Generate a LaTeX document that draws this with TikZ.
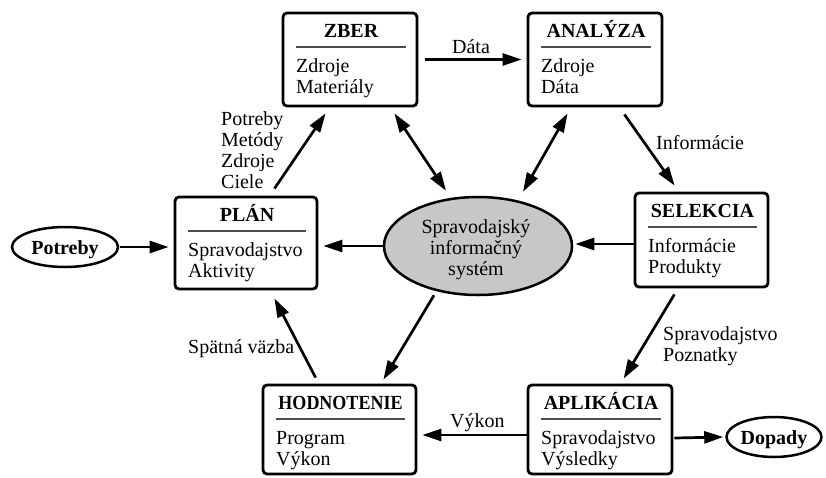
\documentclass[tikz,border=0pt]{standalone}
\usepackage{fontspec}
\usepackage{graphicx}
\setmainfont{Liberation Serif}
\usetikzlibrary{arrows.meta,calc,shapes.geometric}

% stage box: name, left x, top y, width, height, title, first line, second line
\newcommand{\stagebox}[8]{%
  \node[stage, minimum width=#4pt, minimum height=#5pt] (#1) at ({#2+#4/2},{#3+#5/2}) {};
  \draw[sep] ({#2+13},{#3+34}) -- ({#2+#4-11},{#3+34});
  \node[ttl] (#1-t) at ({#2+1+#4/2},{#3+24}) {#6};
  \node[txt] (#1-a) at ({#2+13},{#3+59}) {#7};
  \node[txt] (#1-b) at ({#2+13},{#3+80}) {#8};
}

\begin{document}
\begin{tikzpicture}[x=1pt,y=-1pt,
  stage/.style={draw, line width=2.8pt, rounded corners=4pt, inner sep=0pt},
  ttl/.style={font=\fontsize{20}{24}\selectfont\bfseries, anchor=base, inner sep=0pt},
  txt/.style={font=\fontsize{20}{24}\selectfont, anchor=base west, inner sep=0pt},
  ctr/.style={font=\fontsize{20}{24}\selectfont, anchor=base, inner sep=0pt},
  sep/.style={line width=2pt, black!70},
  oval/.style={ellipse, draw, line width=2.5pt, inner sep=0pt},
  arr/.style={line width=2.7pt, -{Triangle[length=19pt,width=12pt]}},
  darr/.style={line width=2.7pt, {Triangle[length=19pt,width=12pt]}-{Triangle[length=19pt,width=12pt]}},
  ]
\useasboundingbox (0,0) rectangle (826,477);

% the six stages of the cycle
\stagebox{zber}{283}{13}{134}{93}{ZBER}{Zdroje}{Materiály}
\stagebox{anal}{528}{13}{134}{93}{ANALÝZA}{Zdroje}{Dáta}
\stagebox{sel}{635}{193}{133}{94}{SELEKCIA}{Informácie}{Produkty}
\stagebox{plan}{175}{197}{142}{92}{PLÁN}{Spravodajstvo}{Aktivity}
\stagebox{hodn}{263}{385}{153}{89}{\scalebox{0.9}[1]{HODNOTENIE}}{Program}{Výkon}
\stagebox{apl}{528}{385}{144}{89}{APLIKÁCIA}{Spravodajstvo}{Výsledky}

% central information system
\node[oval, fill=black!22, minimum width=188pt, minimum height=98pt] (sis) at (478,246) {};
\node[ctr] (sis-a) at (476,233) {Spravodajský};
\node[ctr] (sis-b) at (476,254) {informačný};
\node[ctr] (sis-c) at (476,275) {systém};

% input and output
\node[oval, minimum width=106pt, minimum height=40pt] (pot) at (65,247) {};
\node[ttl] (pot-t) at (65,254) {Potreby};
\node[oval, minimum width=95pt, minimum height=40pt] (dop) at (774,437) {};
\node[ttl] (dop-t) at (774,444) {Dopady};

% connectors
\draw[arr] ([xshift=7pt]zber.east) -- ([xshift=-5pt]anal.west);
\draw[arr] ([xshift=-39pt,yshift=-7pt]anal.south east) -- ([xshift=41pt,yshift=6pt]sel.north west);
\draw[arr] ([yshift=-4pt]sel.west) -- ([xshift=2pt,yshift=2pt]sis.east);
\draw[arr] (sis.west) -- ([xshift=5pt,yshift=-3pt]plan.east);
\draw[arr] ([xshift=1pt]pot.east) -- ([xshift=-5pt,yshift=-4pt]plan.west);
\draw[arr] ([xshift=-44pt,yshift=7pt]plan.north east) -- ([xshift=44pt,yshift=-6pt]zber.south west);
\draw[darr] ([xshift=-24pt,yshift=-6pt]zber.south east) -- ([xshift=-32pt,yshift=5pt]sis.north);
\draw[darr] ([xshift=41pt,yshift=-6pt]anal.south west) -- ([xshift=45pt,yshift=4pt]sis.north);
\draw[arr] ([xshift=-44pt,yshift=1pt]sis.south) -- ([xshift=-34pt,yshift=4pt]hodn.north east);
\draw[arr] ([xshift=54pt,yshift=6pt]hodn.north west) -- ([xshift=-44pt,yshift=-8pt]plan.south east);
\draw[arr] ([xshift=-95pt,yshift=-6pt]sel.south east) -- ([xshift=97pt,yshift=5pt]apl.north west);
\draw[arr] ([yshift=-5.5pt]apl.west) -- ([xshift=5pt,yshift=-5.5pt]hodn.east);
\draw[arr] ([xshift=1pt,yshift=-8.5pt]apl.east) -- ([xshift=-2pt]dop.west);

% connector labels
\node[ctr] (l-data) at (471,53) {Dáta};
\node[txt] (l-info) at (656,149) {Informácie};
\node[txt] (l-pl1) at (221,125) {Potreby};
\node[txt] (l-pl2) at (221,146) {Metódy};
\node[txt] (l-pl3) at (221,167) {Zdroje};
\node[txt] (l-pl4) at (221,188) {Ciele};
\node[txt] (l-spat) at (188,353) {Spätná väzba};
\node[txt] (l-sp1) at (663,340) {Spravodajstvo};
\node[txt] (l-sp2) at (663,361) {Poznatky};
\node[txt] (l-vyk) at (450,427) {Výkon};
\end{tikzpicture}
\end{document}
